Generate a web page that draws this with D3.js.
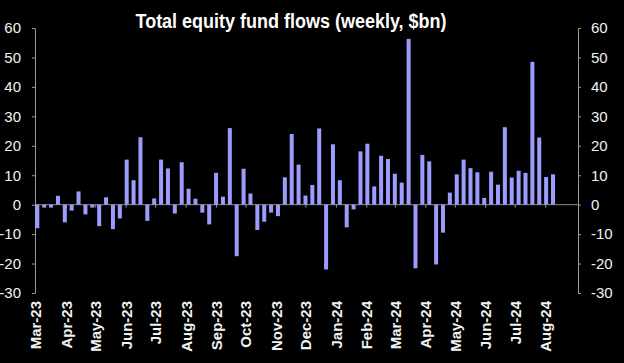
<!DOCTYPE html>
<html>
<head>
    <meta charset="utf-8">
    <style>
        body { margin: 0; background: #000; }
        svg { display: block; background: #000; }
        .axis path, .axis line { stroke: #9a9a9a; }
        .axis text { fill: #f2f2f2; font-family: "Liberation Sans", Arial, sans-serif; }
        .bar { fill: #9c9cff; }
    </style>
</head>
<body>
    <script src="https://cdn.jsdelivr.net/npm/d3@7"></script>
    <script>
        // Weekly flows, $bn, first week ending early Mar-23
        var firstWeek = new Date(2023, 2, 3);
        var flows = [
            -8, -1, -1, 3, -6, -2, 4.5, -3.3, -1, -7.3, 2.5, -8.3, -4.7,
            15.3, 8.3, 22.9, -5.5, 2.1, 15.3, 12.3, -3, 14.4, 5.4, 2, -2.7, -6.7,
            10.8, 2.7, 26, -17.5, 12.2, 3.8, -8.6, -5.8, -2.7, -3.9, 9.3, 24, 13.6,
            3.1, 6.7, 25.9, -22, 20.5, 8.3, -7.7, -1.6, 18.1, 20.7, 6.2, 16.6, 15.5,
            10.5, 7.5, 56.3, -21.6, 16.9, 14.7, -20.3, -9.5, 4.1, 10.3, 15.3, 12.4, 11,
            2.3, 11.2, 6.8, 26.3, 9.2, 11.5, 10.8, 48.5, 22.8, 9.4, 10.3
        ];
        var weeks = flows.map(function (v, i) { return d3.timeDay.offset(firstWeek, 7 * i); });
        var monthTicks = d3.timeMonth.range(new Date(2023, 2, 1), new Date(2024, 7, 2));
        var yTicks = [-30, -20, -10, 0, 10, 20, 30, 40, 50, 60];
        var title = "Total equity fund flows (weekly, $bn)";

        var width = 624, height = 363;
        var leftX = 35, rightX = 578, topY = 28, bottomY = 293;

        var svg = d3.select("body").append("svg")
            .attr("width", width)
            .attr("height", height);

        var x = d3.scaleTime()
            .domain([weeks[0], weeks[weeks.length - 1]])
            .range([37.3, 553]);

        var y = d3.scaleLinear()
            .domain([-30, 60])
            .range([bottomY, topY]);

        // plain hyphen for negatives, like the original
        var plain = function (d) { return String(d); };

        // title
        svg.append("text")
            .attr("x", 291)
            .attr("y", 28)
            .attr("text-anchor", "middle")
            .attr("textLength", 311)
            .attr("lengthAdjust", "spacingAndGlyphs")
            .style("font", "bold 20px 'Liberation Sans', Arial, sans-serif")
            .style("fill", "#fff")
            .text(title);

        // left and right value axes
        svg.append("g")
            .attr("class", "axis")
            .attr("transform", "translate(" + leftX + ",0)")
            .call(d3.axisLeft(y).tickValues(yTicks).tickFormat(plain)
                .tickSize(3).tickSizeOuter(0).tickPadding(11));

        svg.append("g")
            .attr("class", "axis")
            .attr("transform", "translate(" + rightX + ",0)")
            .call(d3.axisRight(y).tickValues(yTicks).tickFormat(plain)
                .tickSize(3).tickSizeOuter(0).tickPadding(10));

        svg.selectAll(".axis text").style("font-size", "15px");

        // zero line with month ticks
        svg.append("line")
            .attr("x1", leftX)
            .attr("x2", rightX)
            .attr("y1", y(0))
            .attr("y2", y(0))
            .style("stroke", "#8a8a8a");

        svg.append("g")
            .attr("class", "axis")
            .attr("transform", "translate(0," + y(0) + ")")
            .call(d3.axisBottom(x).tickValues(monthTicks).tickSize(3).tickFormat(""))
            .call(function (g) { g.select(".domain").remove(); });

        // bars
        svg.selectAll(".bar")
            .data(flows)
            .enter().append("rect")
            .attr("class", "bar")
            .attr("x", function (d, i) { return x(weeks[i]) - 2; })
            .attr("width", 4)
            .attr("y", function (d) { return y(Math.max(0, d)); })
            .attr("height", function (d) { return Math.abs(y(d) - y(0)); });

        // month labels, rotated
        var monthAxis = svg.append("g")
            .attr("class", "axis")
            .attr("transform", "translate(0," + 301 + ")")
            .call(d3.axisBottom(x).tickValues(monthTicks).tickSize(0).tickFormat(d3.timeFormat("%b-%y")));

        monthAxis.select(".domain").remove();
        monthAxis.selectAll("text")
            .attr("transform", "rotate(-90)")
            .attr("x", 0)
            .attr("y", 0)
            .attr("dy", "0.36em")
            .style("text-anchor", "end")
            .style("font-size", "15px")
            .style("font-weight", "bold");
    </script>
</body>
</html>
